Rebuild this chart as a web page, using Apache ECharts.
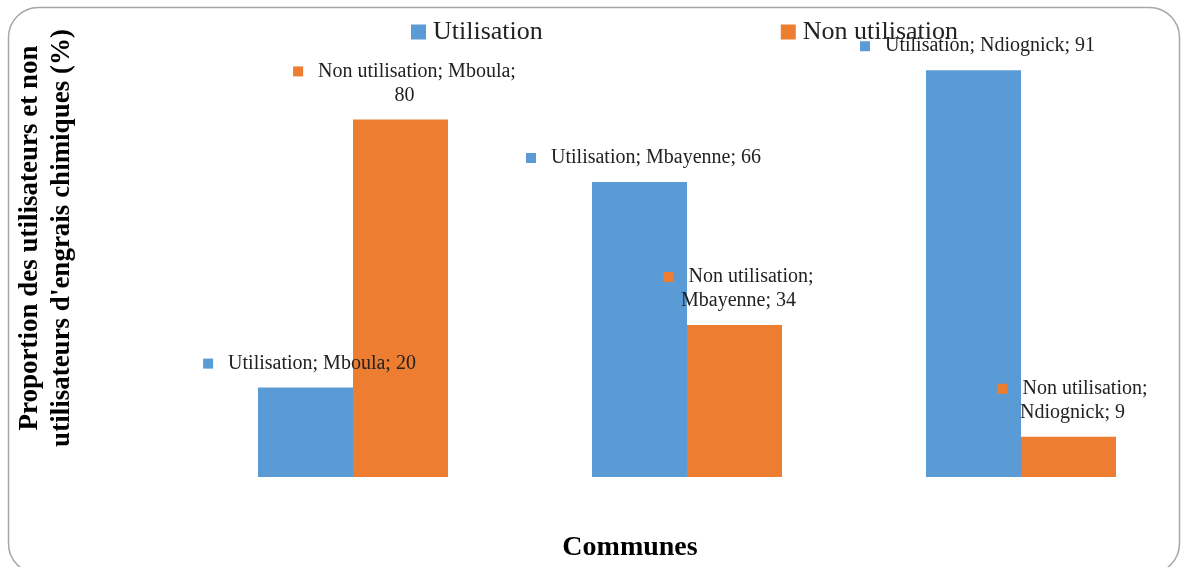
<!DOCTYPE html>
<html>
<head>
<meta charset="utf-8">
<script src="https://cdn.jsdelivr.net/npm/echarts@6/dist/echarts.min.js"></script>
<style>
html,body{margin:0;padding:0;background:#fff;overflow:hidden;}
#chart{width:1194px;height:567px;}
</style>
</head>
<body>
<div id="chart"></div>
<script>
var categories = ['Mboula', 'Mbayenne', 'Ndiognick'];
var seriesNames = ['Utilisation', 'Non utilisation'];
var utilisation = [20, 66, 91];
var nonUtilisation = [80, 34, 9];
var yTitle = "Proportion des utilisateurs et non\nutilisateurs d'engrais chimiques (%)";
var xTitle = 'Communes';

var colors = ['#5B9BD5', '#ED7D31'];
var FONT = '"Liberation Serif", "DejaVu Serif", serif';

function labelFormatter(seriesIdx) {
  return function (p) {
    var txt;
    if (seriesIdx === 0) {
      txt = p.seriesName + '; ' + p.name + '; ' + p.value;
    } else if (p.dataIndex === 0) {
      txt = p.seriesName + '; ' + p.name + ';\n' + p.value;
    } else {
      txt = p.seriesName + ';\n' + p.name + '; ' + p.value;
    }
    var lines = txt.split('\n');
    lines[0] = '{sq' + seriesIdx + '|}{t|   ' + lines[0] + '}';
    for (var i = 1; i < lines.length; i++) lines[i] = '{t|' + lines[i] + '}';
    return lines.join('\n');
  };
}

function makeLabel(idx) {
  var rich = { t: { fontFamily: FONT, fontSize: 20, color: '#222', lineHeight: 24 } };
  rich['sq' + idx] = { width: 10, height: 10, backgroundColor: colors[idx] };
  return {
    show: true,
    position: 'top',
    distance: 12,
    offset: [4, 0],
    align: 'center',
    formatter: labelFormatter(idx),
    rich: rich
  };
}

var chart = echarts.init(document.getElementById('chart'), null, { renderer: 'canvas' });
chart.setOption({
  animation: false,
  color: colors,
  legend: {
    data: seriesNames,
    left: 406,
    top: 14,
    itemWidth: 15,
    itemHeight: 15,
    itemGap: 238,
    icon: 'rect',
    textStyle: { fontFamily: FONT, fontSize: 26, color: '#222', padding: [0, 0, 0, 2] }
  },
  grid: { left: 186, width: 1002, top: 30, bottom: 90, containLabel: false },
  xAxis: {
    type: 'category',
    data: categories,
    axisLine: { show: false },
    axisTick: { show: false },
    axisLabel: { show: false }
  },
  yAxis: {
    type: 'value',
    min: 0,
    max: 100,
    interval: 20,
    axisLine: { show: false },
    axisTick: { show: false },
    axisLabel: { show: false },
    splitLine: { show: false }
  },
  series: [
    {
      name: seriesNames[0],
      type: 'bar',
      data: utilisation,
      barWidth: 95,
      barGap: '0%',
      label: makeLabel(0)
    },
    {
      name: seriesNames[1],
      type: 'bar',
      data: nonUtilisation,
      barWidth: 95,
      barGap: '0%',
      label: makeLabel(1)
    }
  ],
  graphic: [
    {
      type: 'rect',
      shape: { x: 8.5, y: 7.5, width: 1171, height: 566, r: 30 },
      style: { fill: 'none', stroke: '#a6a6a6', lineWidth: 1.5 },
      silent: true,
      z: -1
    },
    {
      type: 'text',
      x: 46,
      y: 238,
      rotation: Math.PI / 2,
      style: {
        text: yTitle,
        fontFamily: FONT,
        fontSize: 27,
        fontWeight: 'bold',
        lineHeight: 32,
        fill: '#000',
        align: 'center',
        verticalAlign: 'middle'
      }
    },
    {
      type: 'text',
      x: 630,
      y: 548,
      style: {
        text: xTitle,
        fontFamily: FONT,
        fontSize: 28,
        fontWeight: 'bold',
        fill: '#000',
        align: 'center',
        verticalAlign: 'middle'
      }
    }
  ]
});
</script>
</body>
</html>
